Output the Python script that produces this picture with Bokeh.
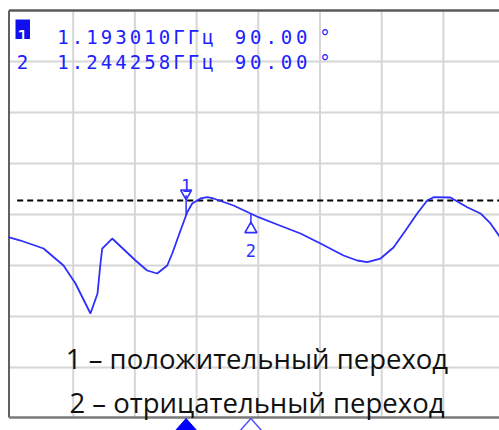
import numpy as np
from bokeh.plotting import figure
from bokeh.models import Range1d
from bokeh.embed import file_html
from bokeh.resources import INLINE
from bokeh.core.properties import value

# ---- data (screen divisions: x 0..10 across, y 0..8 up) ----
trace_x = [-0.05, 0.146, 0.519, 0.843, 1.037, 1.280, 1.394, 1.442, 1.470, 1.632,
           2.010, 2.199, 2.361, 2.524, 2.605, 2.739, 2.848, 2.929, 3.063, 3.172,
           3.274, 3.598, 3.874, 4.003, 4.306, 4.684, 5.008, 5.381, 5.603, 5.765,
           5.981, 6.191, 6.386, 6.575, 6.737, 6.840, 7.115, 7.386, 7.601, 7.763, 7.95]
trace_y = [3.555, 3.490, 3.333, 3.000, 2.647, 2.059, 2.451, 3.039, 3.333, 3.529,
           3.098, 2.902, 2.843, 3.000, 3.235, 3.686, 4.045, 4.216, 4.314, 4.339,
           4.314, 4.176, 4.020, 3.947, 3.804, 3.627, 3.431, 3.196, 3.098, 3.065,
           3.137, 3.353, 3.686, 4.020, 4.275, 4.339, 4.333, 4.143, 4.020, 3.824, 3.50]
ref_level = 4.275
grid_x = [1, 2, 3, 4, 5, 6, 7]
grid_y = [1, 2, 3, 4, 5, 6, 7]
marker_ids = ["1", "2"]
marker_x = [2.83, 3.88]
marker_freq = ["1.193010", "1.244258"]
freq_unit = "ГГц"
marker_phase = ["90.00", "90.00"]
captions = ["1 – положительный переход", "2 – отрицательный переход"]

# ---- layout helpers (image pixel -> division units) ----
PXX, PXY = 61.7, 51.0
def fx(px):
    return (px - 11.0) / PXX
def fy(py):
    return (418.0 - py) / PXY

W, H = 499, 430
p = figure(width=W, height=H, output_backend="svg", toolbar_location=None,
           x_range=Range1d(fx(0), fx(W)), y_range=Range1d(fy(H), fy(0)),
           min_border=0)
p.axis.visible = False
p.grid.visible = False
p.outline_line_color = None
p.background_fill_color = "white"

top, bottom, left, right = fy(10), fy(417), fx(8.5), fx(W)
grid_col = "#d6d6d6"
p.segment(x0=grid_x, y0=[bottom]*len(grid_x), x1=grid_x, y1=[top]*len(grid_x),
          line_color=grid_col, line_width=2)
p.segment(x0=[left]*len(grid_y), y0=grid_y, x1=[right]*len(grid_y), y1=grid_y,
          line_color=grid_col, line_width=2)

# frame border
p.line([left, left], [bottom, top], line_color="#606060", line_width=2)
p.line([left, right], [top, top], line_color="#5a5a5a", line_width=2.5)
p.line([left, right], [bottom, bottom], line_color="#7a7a7a", line_width=2.5)

# reference dashed line
p.line([fx(16.7), right], [ref_level, ref_level], line_color="black",
       line_width=2, line_dash="6 4")

# trace
blue = "#2e2eff"
p.line(trace_x, trace_y, line_color=blue, line_width=1.8)

# markers
marker_y = list(np.interp(marker_x, trace_x, trace_y))
mono = value("DejaVu Sans Mono")
for i, (mx, my) in enumerate(zip(marker_x, marker_y)):
    tip = 418.0 - my * PXY
    if i == 0:
        p.segment(x0=[mx], y0=[my], x1=[mx], y1=[fy(tip - 20)], line_color=blue, line_width=1.5)
        p.scatter(x=[mx], y=[fy(tip - 22)], marker="inverted_triangle", size=11,
                  fill_color=None, line_color=blue, line_width=1.6)
        p.text(x=[mx], y=[fy(tip - 30)], text=[marker_ids[i]], text_font=mono,
               text_font_size="17px", text_align="center", text_baseline="alphabetic",
               text_color=blue)
    else:
        p.segment(x0=[mx], y0=[my], x1=[mx], y1=[fy(tip + 11)], line_color=blue, line_width=1.5)
        p.scatter(x=[mx], y=[fy(tip + 15.5)], marker="triangle", size=12,
                  fill_color=None, line_color=blue, line_width=1.6)
        p.text(x=[mx], y=[fy(tip + 37)], text=[marker_ids[i]], text_font=mono,
               text_font_size="17px", text_align="center", text_baseline="alphabetic",
               text_color=blue)

# bottom marker indicators
hw = 11.5 / PXX
p.patch([marker_x[0] - hw, marker_x[0], marker_x[0] + hw], [fy(431), fy(418), fy(431)],
        fill_color="#0000ff", line_color="#0000ff", line_width=1)
p.line([marker_x[1] - hw, marker_x[1], marker_x[1] + hw], [fy(431), fy(418), fy(431)],
       line_color="#5555ff", line_width=1.5)

# header
hdr = "#2020ff"
def char_row(s, first_center, pitch, baseline, color):
    xs = [fx(first_center + k * pitch) for k in range(len(s))]
    p.text(x=xs, y=[fy(baseline)] * len(s), text=list(s), text_font=mono,
           text_font_size="19px", text_align="center", text_baseline="alphabetic",
           text_color=color)

baselines = [36.5, 61.0]
p.quad(left=[fx(15)], right=[fx(29.5)], bottom=[fy(38.5)], top=[fy(19)],
       fill_color="#1010ee", line_color=None)
for i in range(2):
    char_row(marker_ids[i], 22.0, 14.5, baselines[i], "white" if i == 0 else hdr)
    char_row(marker_freq[i] + freq_unit, 62.5, 14.5, baselines[i], hdr)
    char_row(marker_phase[i], 240.0, 15.3, baselines[i], hdr)
    char_row("°", 324.5, 14.5, baselines[i], hdr)

# captions
cap_base = [357.5, 401.5]
p.text(x=[fx(256.5)] * 2, y=[fy(b) for b in cap_base], text=captions,
       text_font=value("Open Sans"), text_font_size="27.5px", text_align="center",
       text_baseline="alphabetic", text_color="#111111")

open("out.html", "w").write(file_html(p, INLINE))
